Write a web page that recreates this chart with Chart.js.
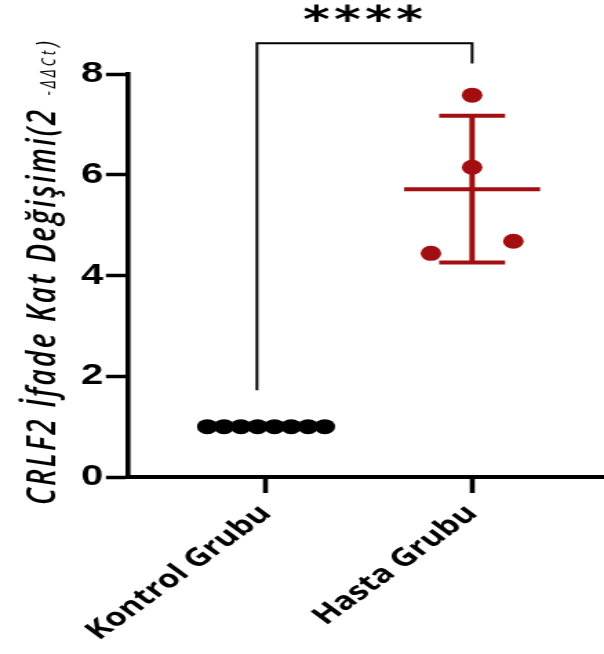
<!DOCTYPE html>
<html>
<head>
<meta charset="utf-8">
<script src="https://cdn.jsdelivr.net/npm/chart.js@4.4.1/dist/chart.umd.min.js"></script>
<style>
  html, body { margin: 0; padding: 0; background: #fff; overflow: hidden; }
  /* the reference is stretched sideways, so the canvas is drawn narrow and scaled */
  #wrap { width: 438px; height: 654px; transform: scaleX(1.379); transform-origin: 0 0; }
</style>
</head>
<body>
<div id="wrap"><canvas id="chart" width="438" height="654"></canvas></div>
<script>
'use strict';

// ---- data ----
const groups        = ['Kontrol Grubu', 'Hasta Grubu'];
const kontrolValues = [1, 1, 1, 1, 1, 1, 1, 1];
const kontrolJitter = [-0.285, -0.204, -0.122, -0.041, 0.041, 0.122, 0.204, 0.285];
const hastaValues   = [7.58, 6.15, 4.44, 4.68];
const hastaJitter   = [0, 0, -0.2, 0.2];
const yTicks        = [0, 2, 4, 6, 8];
const yTitleMain    = 'CRLF2 İfade Kat Değişimi(2';
const yTitleSup     = '-ΔΔCt';
const sigLabel      = '****';

const RED   = '#a30f10';
const BLACK = '#000000';

const toPoints = (vals, jit, pos) => vals.map((v, i) => ({ x: pos + jit[i], y: v }));

const mean = a => a.reduce((s, v) => s + v, 0) / a.length;
const sd = a => {
  if (a.length < 2) return 0;
  const m = mean(a);
  return Math.sqrt(a.reduce((s, v) => s + (v - m) * (v - m), 0) / (a.length - 1));
};

// draws a string char by char with extra spacing, returns advance
const spacedText = (ctx, str, x0, y0, gap) => {
  let x = x0;
  for (const ch of str) {
    ctx.fillText(ch, x, y0);
    x += ctx.measureText(ch).width + gap;
  }
  return x - x0;
};

// mean line + SD whiskers, drawn under the dots
const errorBars = {
  id: 'errorBars',
  beforeDatasetsDraw(chart) {
    const { ctx, scales: { x, y } } = chart;
    chart.data.datasets.forEach((ds, i) => {
      const vals = ds.data.map(p => p.y);
      const m = mean(vals), s = sd(vals);
      const cx = x.getPixelForValue(i + 1);
      ctx.save();
      ctx.strokeStyle = ds.backgroundColor;
      ctx.lineWidth = 4;
      ctx.lineCap = 'butt';
      ctx.beginPath();
      ctx.moveTo(x.getPixelForValue(i + 1 - 0.33), y.getPixelForValue(m));
      ctx.lineTo(x.getPixelForValue(i + 1 + 0.33), y.getPixelForValue(m));
      if (s > 0) {
        ctx.moveTo(cx, y.getPixelForValue(m + s));
        ctx.lineTo(cx, y.getPixelForValue(m - s));
        [m + s, m - s].forEach(v => {
          ctx.moveTo(x.getPixelForValue(i + 1 - 0.16), y.getPixelForValue(v));
          ctx.lineTo(x.getPixelForValue(i + 1 + 0.16), y.getPixelForValue(v));
        });
      }
      ctx.stroke();
      ctx.restore();
    });
  }
};

// significance bracket and stars
const sigBracket = {
  id: 'sigBracket',
  afterDraw(chart) {
    const { ctx, scales: { x, y } } = chart;
    const xl = x.getPixelForValue(0.956), xr = x.getPixelForValue(2);
    const yt = y.getPixelForValue(8.61);
    ctx.save();
    ctx.strokeStyle = BLACK;
    ctx.lineWidth = 2;
    ctx.beginPath();
    ctx.moveTo(xl, y.getPixelForValue(1.72));
    ctx.lineTo(xl, yt);
    ctx.lineTo(xr, yt);
    ctx.lineTo(xr, y.getPixelForValue(8.21));
    ctx.stroke();

    ctx.fillStyle = BLACK;
    ctx.font = 'bold 37px "DejaVu Sans"';
    ctx.textAlign = 'center';
    ctx.textBaseline = 'middle';
    const cx = x.getPixelForValue(1.47);
    const stars = sigLabel.split('');
    stars.forEach((c, k) => {
      ctx.fillText(c, cx + (k - (stars.length - 1) / 2) * 22.5, 22);
    });
    ctx.restore();
  }
};

// rotated y title with the small exponent part
const yTitle = {
  id: 'yTitle',
  afterDraw(chart) {
    const { ctx } = chart;
    ctx.save();
    ctx.translate(40, 505);
    ctx.rotate(-Math.PI / 2);
    ctx.fillStyle = BLACK;
    ctx.textBaseline = 'alphabetic';
    ctx.textAlign = 'left';
    ctx.font = 'italic 600 28px "Open Sans"';
    let w = spacedText(ctx, yTitleMain, 0, 0, 2.2) + 12;
    ctx.font = 'italic 500 14px "Open Sans"';
    w += spacedText(ctx, yTitleSup, w, 0, 3) + 1;
    ctx.font = 'italic 500 20px "Open Sans"';
    ctx.fillText(')', w, 0);
    ctx.restore();
  }
};

new Chart(document.getElementById('chart'), {
  type: 'scatter',
  data: {
    datasets: [
      {
        label: groups[0],
        data: toPoints(kontrolValues, kontrolJitter, 1),
        backgroundColor: BLACK,
        borderColor: BLACK,
        pointRadius: 7.5,
        borderWidth: 0,
      },
      {
        label: groups[1],
        data: toPoints(hastaValues, hastaJitter, 2),
        backgroundColor: RED,
        borderColor: RED,
        pointRadius: 7.5,
        borderWidth: 0,
      }
    ]
  },
  options: {
    responsive: false,
    animation: false,
    devicePixelRatio: 1,
    layout: { autoPadding: false, padding: { top: 74, right: 0, bottom: 0, left: 0 } },
    plugins: { legend: { display: false }, tooltip: { enabled: false } },
    scales: {
      x: {
        type: 'linear',
        min: 0.33, max: 2.64,
        afterBuildTicks: s => { s.ticks = groups.map((g, i) => ({ value: i + 1 })); },
        afterFit: s => { s.height = 177; s.paddingLeft = 0; s.paddingRight = 0; },
        grid: { drawOnChartArea: false, drawTicks: true, tickLength: 16, tickWidth: 3.6, tickColor: BLACK },
        border: { display: true, color: BLACK, width: 4 },
        ticks: {
          callback: v => groups[v - 1],
          minRotation: 45, maxRotation: 45,
          color: BLACK,
          padding: 6,
          font: { family: '"Open Sans"', weight: 'bold', size: 25 },
        }
      },
      y: {
        min: 0, max: 8,
        afterBuildTicks: s => { s.ticks = yTicks.map(v => ({ value: v })); },
        afterFit: s => { s.width = 92.8; s.paddingTop = 0; s.paddingBottom = 0; },
        grid: { drawOnChartArea: false, drawTicks: true, tickLength: 16, tickWidth: 3.5, tickColor: BLACK },
        border: { display: true, color: BLACK, width: 3.6 },
        ticks: {
          color: BLACK,
          padding: 2,
          font: { family: '"Liberation Sans"', weight: 'bold', size: 29 },
        }
      }
    }
  },
  plugins: [errorBars, sigBracket, yTitle]
});
</script>
</body>
</html>
